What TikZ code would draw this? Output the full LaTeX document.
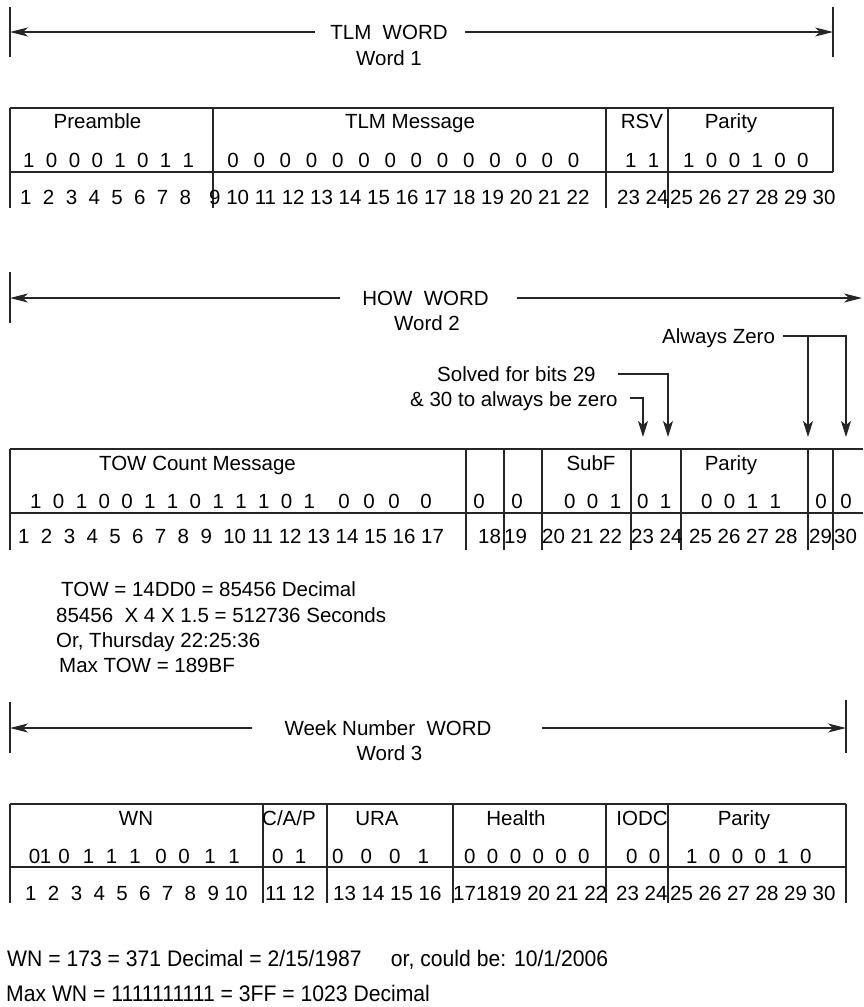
\documentclass[tikz,border=0pt]{standalone}
\usepackage{fontspec}
\newfontfamily\arialf{Liberation Sans}
\newfontfamily\narrowf{Liberation Sans}[FakeStretch=0.94]
\usetikzlibrary{arrows.meta}
\newcommand\fs{\arialf\fontsize{20.5}{24}\selectfont}
\newcommand\fsn{\narrowf\fontsize{22.5}{26}\selectfont}
\tikzset{
  txt/.style={font=\fs, inner sep=0pt, text height=14.7pt, text depth=0pt},
  lft/.style={txt, anchor=west},
  ntxt/.style={font=\fsn, inner sep=0pt, text height=16.1pt, text depth=0pt, anchor=west},
  frame/.style={line width=1.1pt, draw=black!85},
  harrow/.style={line width=1.1pt, draw=black!85, -{Stealth[length=18pt,width=9pt,inset=5pt]}},
  varrow/.style={line width=1.1pt, draw=black!85, -{Stealth[length=16pt,width=10pt,inset=4pt]}},
}
\begin{document}
\begin{tikzpicture}[x=1pt,y=-1pt]
\useasboundingbox (0,0) rectangle (863,1007);

% ===================== Word 1 : TLM =====================
\node[txt] (tlm) at (389,32) {TLM~~WORD};
\node[txt] (w1) at (389,58) {Word 1};
\coordinate (t1a) at (10,7);  \coordinate (t1b) at (10,57);
\coordinate (t1c) at (833,7); \coordinate (t1d) at (833,57);
\draw[frame] (t1a) -- (t1b);
\draw[frame] (t1c) -- (t1d);
\coordinate (a1l) at (315,32);  \coordinate (a1le) at (10,32);
\coordinate (a1r) at (465,32);  \coordinate (a1re) at (833,32);
\draw[harrow] (a1l) -- (a1le);
\draw[harrow] (a1r) -- (a1re);

\draw[frame] (10,108) -- (833,108) -- (833,172);
\draw[frame] (10,172) -- (833,172);
\foreach \x in {10,213,606,668} \draw[frame] (\x,108) -- (\x,208);

\node[txt] (h1a) at (97.5,121) {Preamble};
\node[txt] (h1b) at (410,121) {TLM Message};
\node[txt] (h1c) at (642,121) {RSV};
\node[txt] (h1d) at (731,121) {Parity};

\node[lft] (b1a) at (23,160) {1~~0~~0~~0~~1~~0~~1~~1};
\foreach \i in {1,...,14}
  \node[txt] (b1z\i) at ({233+26.2*(\i-1)},160) {0};
\node[lft] (b1c) at (625,160) {1~~1};
\node[lft] (b1d) at (683,160) {1~~0~~0~~1~~0~~0};

\node[lft] (n1a) at (20,197.5) {1~~2~~3~~4~~5~~6~~7~~8};
\node[lft] (n1b) at (209,197.5) {9~10~11~12~13~14~15~16~17~18~19~20~21~22};
\node[lft] (n1c) at (617,197.5) {23~24};
\node[lft] (n1d) at (670,197.5) {25~26~27~28~29~30};

% ===================== Word 2 : HOW =====================
\node[txt] (how) at (425.5,298) {HOW~~WORD};
\node[txt] (w2) at (427,323) {Word 2};
\coordinate (t2a) at (10,272); \coordinate (t2b) at (10,323);
\draw[frame] (t2a) -- (t2b);
\coordinate (a2l) at (340,298); \coordinate (a2le) at (10,298);
\coordinate (a2r) at (517,298); \coordinate (a2re) at (862,298);
\draw[harrow] (a2l) -- (a2le);
\draw[harrow] (a2r) -- (a2re);

\node[lft] (az) at (662,336) {Always Zero};
\coordinate (az0) at (783,336); \coordinate (az1) at (808,336); \coordinate (az2) at (846,336);
\coordinate (azt1) at (808,437); \coordinate (azt2) at (846,437);
\draw[varrow] (az0) -- (az2) -- (azt2);
\draw[varrow] (az1) -- (azt1);

\node[lft] (sv1) at (437,374) {Solved for bits 29};
\node[lft] (sv2) at (410,399) {\&~30 to always be zero};
\coordinate (sa0) at (618,374); \coordinate (sa1) at (668,374); \coordinate (sat1) at (668,437);
\coordinate (sb0) at (630,398); \coordinate (sb1) at (643,398); \coordinate (sbt1) at (643,437);
\draw[varrow] (sa0) -- (sa1) -- (sat1);
\draw[varrow] (sb0) -- (sb1) -- (sbt1);

\draw[frame] (10,449) -- (863,449);
\draw[frame] (10,513) -- (863,513);
\foreach \x in {10,466,504,542,631,681,808,833} \draw[frame] (\x,449) -- (\x,550);

\node[txt] (h2a) at (197.5,463) {TOW Count Message};
\node[txt] (h2b) at (591,463) {SubF};
\node[txt] (h2c) at (731,463) {Parity};

\node[lft] (b2a) at (30,501) {1~~0~~1~~0~~0~~1~~1~~0~~1~~1~~1~~0~~1};
\foreach \x [count=\i] in {344,369,394,426,479,517,821,846}
  \node[txt] (b2z\i) at (\x,501) {0};
\node[lft] (b2b) at (564,501) {0~~0~~1};
\node[lft] (b2c) at (637,501) {0~~1};
\node[lft] (b2d) at (701,501) {0~~0~~1~~1};

\node[lft] (n2a) at (18,536) {1~~2~~3~~4~~5~~6~~7~~8~~9~~10~11~12~13~14~15~16~17};
\node[lft] (n2b) at (478,536) {18};
\node[lft] (n2c) at (504,536) {19};
\node[lft] (n2d) at (542,536) {20~21~22};
\node[lft] (n2e) at (631,536) {23~24};
\node[lft] (n2f) at (689,536) {25~26~27~28};
\node[lft] (n2g) at (809,536) {29};
\node[lft] (n2h) at (834,536) {30};

\node[lft] (tw1) at (61,589) {TOW = 14DD0 = 85456 Decimal};
\node[lft] (tw2) at (56,615) {85456~~X 4 X 1.5 = 512736 Seconds};
\node[lft] (tw3) at (56,640) {Or, Thursday 22:25:36};
\node[lft] (tw4) at (59,665) {Max TOW = 189BF};

% ===================== Word 3 : Week Number =====================
\node[txt] (wnw) at (388,728) {Week Number~~WORD};
\node[txt] (w3) at (389.5,753) {Word 3};
\coordinate (t3a) at (10,702);  \coordinate (t3b) at (10,753);
\coordinate (t3c) at (846,700); \coordinate (t3d) at (846,753);
\draw[frame] (t3a) -- (t3b);
\draw[frame] (t3c) -- (t3d);
\coordinate (a3l) at (252,728); \coordinate (a3le) at (10,728);
\coordinate (a3r) at (542,728); \coordinate (a3re) at (846,728);
\draw[harrow] (a3l) -- (a3le);
\draw[harrow] (a3r) -- (a3re);

\draw[frame] (10,804) -- (846,804);
\draw[frame] (10,867) -- (846,867);
\foreach \x in {10,263,327,453,606,668,846} \draw[frame] (\x,804) -- (\x,903);

\node[txt] (h3a) at (136,818) {WN};
\node[txt] (h3b) at (289,818) {C/A/P};
\node[txt] (h3c) at (377,818) {URA};
\node[txt] (h3d) at (516,818) {Health};
\node[txt] (h3e) at (642,818) {IODC};
\node[txt] (h3f) at (744,818) {Parity};

\foreach \x/\t [count=\i] in {34.5/0,45.5/1,64/0,88.5/1,111.5/1,135/1,161/0,184/0,210/1,234/1}
  \node[txt] (b3w\i) at (\x,856) {\t};
\node[lft] (b3b) at (272,856) {0~~1};
\node[lft] (b3c) at (332,856) {0~~~0~~~0~~~1};
\node[lft] (b3d) at (464,856) {0~~0~~0~~0~~0~~0};
\node[lft] (b3e) at (626,856) {0~~0};
\node[lft] (b3f) at (686,856) {1~~0~~0~~0~~1~~0};

\node[lft] (n3a) at (25,893) {1~~2~~3~~4~~5~~6~~7~~8~~9~10};
\node[lft] (n3b) at (265,893) {11~12};
\node[lft] (n3c) at (333,893) {13~14~15~16};
\node[lft] (n3d) at (453,893) {171819~20~21~22};
\node[lft] (n3e) at (616,893) {23~24};
\node[lft] (n3f) at (670,893) {25~26~27~28~29~30};

\node[ntxt] (wn1) at (7,958) {WN = 173 = 371 Decimal = 2/15/1987~~~~~or, could be: 10/1/2006};
\node[ntxt] (wn2) at (6,993) {Max WN = 1111111111 = 3FF = 1023 Decimal};
\end{tikzpicture}
\end{document}
